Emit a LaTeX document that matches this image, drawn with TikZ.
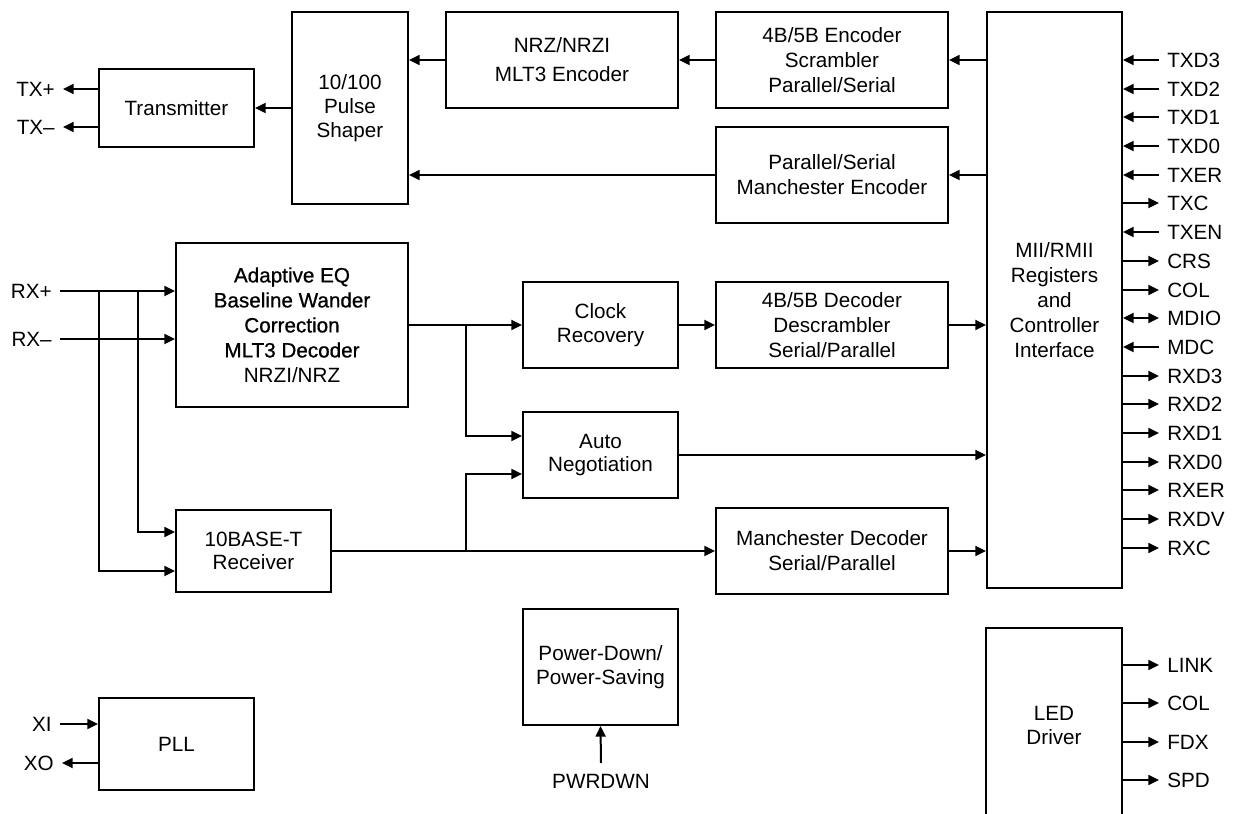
\documentclass[tikz,border=0pt]{standalone}
\usepackage{fontspec}
\setmainfont{Liberation Sans}
\newfontfamily\semib[FakeBold=0.8]{Liberation Sans}
\usetikzlibrary{arrows.meta}
\begin{document}
\begin{tikzpicture}[x=0.75pt,y=-0.75pt,
  every node/.style={font=\fontsize{15.5}{18.75}\selectfont},
  blk/.style={draw, line width=1.5pt, align=center, inner sep=0pt},
  wire/.style={line width=1.5pt},
  arr/.style={wire, -{Triangle[length=8pt,width=7.5pt]}},
  pinin/.style={wire, {Triangle[length=8pt,width=7.5pt]}-},
  pinout/.style={wire, -{Triangle[length=8pt,width=7.5pt]}},
  pinboth/.style={wire, {Triangle[length=8pt,width=7.5pt]}-{Triangle[length=8pt,width=7.5pt]}},
  pinl/.style={inner xsep=6pt, inner ysep=0pt},
]
\useasboundingbox (0,0) rectangle (1233,814);

% blocks
\node[blk, minimum width=116.25pt, minimum height=58.5pt] (tx) at (176.5,108) {Transmitter};
\node[blk, minimum width=87pt, minimum height=144pt, font=\fontsize{15.5}{18}\selectfont] (pulse) at (350,108) {10/100\\Pulse\\Shaper};
\node[blk, minimum width=174pt, minimum height=72pt, font=\fontsize{15.5}{21.75}\selectfont] (nrz) at (562,60) {NRZ/NRZI\\MLT3 Encoder};
\node[blk, minimum width=174pt, minimum height=72pt] (enc) at (832,60) {4B/5B Encoder\\Scrambler\\Parallel/Serial};
\node[blk, minimum width=174pt, minimum height=72pt] (menc) at (832,175) {Parallel/Serial\\Manchester Encoder};
\node[blk, minimum width=101.25pt, minimum height=432pt] (mii) at (1054.5,300) {MII/RMII\\Registers\\and\\Controller\\Interface};
\node[blk, minimum width=174pt, minimum height=123pt] (adapt) at (292,325) {\semib Adaptive EQ\\\semib Baseline Wander\\\semib Correction\\\semib MLT3 Decoder\\\rmfamily NRZI/NRZ};
\node[blk, minimum width=116.25pt, minimum height=64.5pt, font=\fontsize{15.5}{17.5}\selectfont] (clk) at (600.5,325) {Clock\\Recovery};
\node[blk, minimum width=174pt, minimum height=64.5pt] (dec) at (832,325) {4B/5B Decoder\\Descrambler\\Serial/Parallel};
\node[blk, minimum width=116.25pt, minimum height=64.5pt, font=\fontsize{15.5}{17.5}\selectfont] (an) at (600.5,455) {Auto\\Negotiation};
\node[blk, minimum width=116.25pt, minimum height=61.5pt, font=\fontsize{15.5}{17.5}\selectfont] (tbt) at (253.5,551) {10BASE-T\\Receiver};
\node[blk, minimum width=174pt, minimum height=64.5pt] (mdec) at (832,551) {Manchester Decoder\\Serial/Parallel};
\node[blk, minimum width=116.25pt, minimum height=87pt, font=\fontsize{15.5}{17.5}\selectfont] (pwr) at (600.5,667) {\raisebox{3pt}{Power-Down/}\\\raisebox{3pt}{Power-Saving}};
\node[blk, minimum width=116.25pt, minimum height=69pt] (pll) at (176.5,744) {PLL};
\node[align=center, inner sep=0pt, minimum width=102pt, minimum height=145.5pt, font=\fontsize{15.5}{18}\selectfont] (led) at (1054,725) {LED\\Driver};
\draw[wire] (led.south west) -- (led.north west) -- (led.north east) -- (led.south east);

% external labels
\node[pinl, anchor=east] (txp) at (63,89) {TX+};
\node[pinl, anchor=east] (txm) at (63,127) {TX–};
\node[pinl, anchor=east] (rxp) at (60,291) {RX+};
\node[pinl, anchor=east] (rxm) at (60,339) {RX–};
\node[pinl, anchor=east] (xi) at (60,724) {XI};
\node[pinl, anchor=east] (xo) at (62,763) {XO};
\node[inner xsep=0pt, inner ysep=8.25pt, anchor=north] (pwd) at (601,763) {PWRDWN};

% transmit path
\draw[arr] (mii.west |- enc.east) -- (enc.east);
\draw[arr] (enc.west) -- (nrz.east);
\draw[arr] (nrz.west) -- (pulse.east |- nrz.west);
\draw[arr] (mii.west |- menc.east) -- (menc.east);
\draw[arr] (menc.west) -- (pulse.east |- menc.west);
\draw[arr] (pulse.west |- tx.east) -- (tx.east);
\draw[arr] (tx.west |- txp) -- (txp.east);
\draw[arr] (tx.west |- txm) -- (txm.east);

% receive path
\coordinate (b1) at (99,291);
\coordinate (b2) at (138,291);
\draw[arr] (rxp.east) -- (adapt.west |- rxp);
\draw[arr] (rxm.east) -- (adapt.west |- rxm);
\draw[arr] (b2) |- ([yshift=14.25pt]tbt.west);
\draw[arr] (b1) |- ([yshift=-15pt]tbt.west);
\coordinate (j1) at (466,325);
\coordinate (j2) at (466,551);
\draw[arr] (adapt.east |- clk.west) -- (clk.west);
\draw[arr] (j1) |- ([yshift=14.25pt]an.west);
\draw[arr] (tbt.east) -- (mdec.west);
\draw[arr] (j2) |- ([yshift=-14.25pt]an.west);
\draw[arr] (clk.east) -- (dec.west);
\draw[arr] (dec.east) -- (mii.west |- dec.east);
\draw[arr] (an.east) -- (mii.west |- an.east);
\draw[arr] (mdec.east) -- (mii.west |- mdec.east);

% misc
\draw[arr] (xi.east) -- (pll.west |- xi);
\draw[arr] (pll.west |- xo) -- (xo.east);
\draw[arr] (pwd.north) -- (pwr.south);

% MII pins
\foreach \lab/\d [count=\i from 0] in {TXD3/pinin, TXD2/pinin, TXD1/pinin, TXD0/pinin, TXER/pinin, TXC/pinout, TXEN/pinin, CRS/pinout, COL/pinout, MDIO/pinboth, MDC/pinin, RXD3/pinout, RXD2/pinout, RXD1/pinout, RXD0/pinout, RXER/pinout, RXDV/pinout, RXC/pinout} {
  \node[pinl, anchor=west] (p\i) at (1159, {round(60+28.7*\i)}) {\lab};
  \draw[\d] (mii.east |- p\i) -- (p\i.west);
}
% LED pins
\foreach \lab [count=\i from 0] in {LINK, COL, FDX, SPD} {
  \node[pinl, anchor=west] (l\i) at (1159, {round(665+38.3*\i)}) {\lab};
  \draw[pinout] (led.east |- l\i) -- (l\i.west);
}
\end{tikzpicture}
\end{document}
